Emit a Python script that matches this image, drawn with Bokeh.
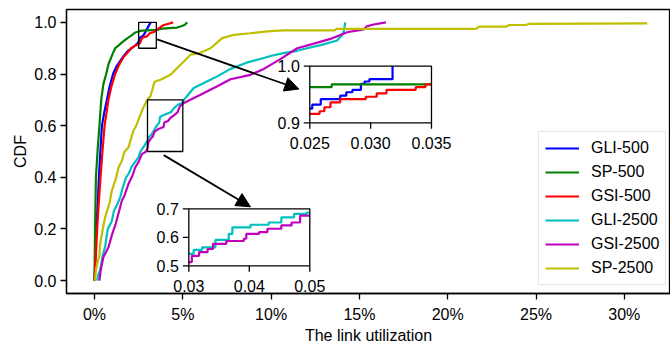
import numpy as np
from bokeh.plotting import figure
from bokeh.models import Range1d, FixedTicker, NumeralTickFormatter, Arrow, NormalHead
from bokeh.core.properties import value
from bokeh.embed import file_html
from bokeh.resources import INLINE

FONT = "Liberation Sans"
FS = "16px"

# ---------------- data (link utilization as fraction, CDF value) ----------------
series_names = ["GLI-500", "SP-500", "GSI-500", "GLI-2500", "GSI-2500", "SP-2500"]
series_colors = ["#0000ff", "#008000", "#ff0000", "#00bfbf", "#bf00bf", "#bfbf00"]

gli500_x = [0.0, 0.0005, 0.001, 0.0018, 0.0025, 0.0033, 0.0042, 0.0055, 0.007, 0.0085,
            0.0105, 0.0125, 0.0145, 0.0165, 0.019, 0.021, 0.023, 0.0245, 0.025, 0.0252,
            0.0259, 0.0275, 0.028, 0.0285, 0.0292, 0.0295, 0.0299, 0.0318]
gli500_y = [0.0, 0.1, 0.2, 0.3, 0.4, 0.5, 0.6, 0.65, 0.7, 0.75,
            0.8, 0.83, 0.85, 0.87, 0.89, 0.9, 0.91, 0.92, 0.925, 0.932,
            0.942, 0.948, 0.954, 0.958, 0.969, 0.973, 0.977, 1.0]

sp500_x = [0.0, 0.0003, 0.0008, 0.0019, 0.0028, 0.0038, 0.005, 0.0066, 0.008, 0.0104,
           0.0117, 0.0135, 0.0151, 0.017, 0.0189, 0.021, 0.0226, 0.024, 0.0268, 0.036,
           0.037, 0.042, 0.0468, 0.049, 0.051, 0.0525]
sp500_y = [0.0, 0.2, 0.4, 0.52, 0.6, 0.7, 0.76, 0.8, 0.84, 0.88,
           0.9, 0.91, 0.92, 0.93, 0.94, 0.95, 0.959, 0.963, 0.968, 0.971,
           0.975, 0.978, 0.98, 0.985, 0.99, 1.0]

gsi500_x = [0.0, 0.0008, 0.0015, 0.0024, 0.0034, 0.0045, 0.0057, 0.0068, 0.0079, 0.0095,
            0.0117, 0.0135, 0.0151, 0.017, 0.019, 0.0208, 0.023, 0.025, 0.0258, 0.0262,
            0.0267, 0.0275, 0.0296, 0.0305, 0.0313, 0.0337, 0.0345, 0.036, 0.038, 0.0393,
            0.042, 0.0445]
gsi500_y = [0.0, 0.1, 0.2, 0.3, 0.4, 0.5, 0.6, 0.65, 0.7, 0.75,
            0.8, 0.83, 0.85, 0.87, 0.885, 0.9, 0.91, 0.9157, 0.9204, 0.9275,
            0.936, 0.942, 0.946, 0.952, 0.958, 0.963, 0.968, 0.975, 0.985, 0.99,
            0.995, 1.0]

gli2500_x = [0.0015, 0.002, 0.0032, 0.0047, 0.006, 0.0075, 0.0098, 0.011, 0.0132, 0.0145,
             0.016, 0.0179, 0.0192, 0.021, 0.023, 0.0249, 0.026, 0.028, 0.030, 0.0308,
             0.0322, 0.0344, 0.0366, 0.0372, 0.0402, 0.0432, 0.0453, 0.0474, 0.0495, 0.0506,
             0.053, 0.0562, 0.0619, 0.0695, 0.077, 0.0865, 0.0959, 0.0997, 0.107, 0.1148,
             0.1185, 0.128, 0.1374, 0.140, 0.141, 0.142]
gli2500_y = [0.0, 0.02, 0.04, 0.1, 0.13, 0.2, 0.23, 0.27, 0.3, 0.322,
             0.36, 0.4, 0.412, 0.44, 0.46, 0.477, 0.5, 0.52, 0.542, 0.556,
             0.565, 0.591, 0.612, 0.635, 0.644, 0.652, 0.67, 0.682, 0.687, 0.70,
             0.72, 0.746, 0.765, 0.791, 0.82, 0.845, 0.862, 0.87, 0.881, 0.89,
             0.897, 0.912, 0.93, 0.95, 0.96, 1.0]

gsi2500_x = [0.0028, 0.0035, 0.005, 0.0079, 0.010, 0.012, 0.0155, 0.017, 0.0192, 0.0217,
             0.023, 0.025, 0.0268, 0.0292, 0.030, 0.0305, 0.0317, 0.0331, 0.034, 0.0362,
             0.0391, 0.0395, 0.0416, 0.043, 0.0453, 0.047, 0.0484, 0.0506, 0.060, 0.0695,
             0.077, 0.0883, 0.0959, 0.105, 0.1148, 0.1242, 0.1336, 0.143, 0.1525, 0.154,
             0.158, 0.165]
gsi2500_y = [0.0, 0.04, 0.09, 0.129, 0.18, 0.22, 0.309, 0.33, 0.374, 0.41,
             0.438, 0.46, 0.49, 0.50, 0.513, 0.535, 0.548, 0.559, 0.577, 0.587,
             0.595, 0.612, 0.618, 0.63, 0.642, 0.652, 0.676, 0.688, 0.72, 0.753,
             0.78, 0.797, 0.82, 0.857, 0.90, 0.918, 0.936, 0.962, 0.973, 0.984,
             0.992, 1.0]

sp2500_x = [0.0002, 0.001, 0.0028, 0.0032, 0.0047, 0.006, 0.0085, 0.0098, 0.0123, 0.0136,
            0.0155, 0.017, 0.0192, 0.022, 0.0236, 0.027, 0.0298, 0.0317, 0.034, 0.0374,
            0.043, 0.0497, 0.0544, 0.059, 0.0657, 0.0723, 0.0789, 0.0883, 0.0978, 0.107,
            0.136, 0.137, 0.216, 0.218, 0.233, 0.235, 0.244, 0.246, 0.313]
sp2500_y = [0.0, 0.05, 0.1, 0.142, 0.2, 0.245, 0.3, 0.348, 0.4, 0.438,
            0.464, 0.5, 0.515, 0.58, 0.6, 0.66, 0.7, 0.714, 0.77, 0.778,
            0.797, 0.843, 0.875, 0.88, 0.90, 0.939, 0.952, 0.958, 0.965, 0.969,
            0.969, 0.975, 0.975, 0.984, 0.984, 0.99, 0.99, 0.994, 0.996]

series_x = [gli500_x, sp500_x, gsi500_x, gli2500_x, gsi2500_x, sp2500_x]
series_y = [gli500_y, sp500_y, gsi500_y, gli2500_y, gsi2500_y, sp2500_y]

x_ticks = [0.0, 0.05, 0.10, 0.15, 0.20, 0.25, 0.30]
y_ticks = [0.0, 0.2, 0.4, 0.6, 0.8, 1.0]

inset1_series = [0, 1, 2]
inset1_xlim = [0.025, 0.035]
inset1_ylim = [0.9, 1.0]
inset1_xticks = [0.025, 0.030, 0.035]
inset1_xlabels = ["0.025", "0.030", "0.035"]
inset1_yticks = [0.9, 1.0]
inset1_ylabels = ["0.9", "1.0"]

inset2_series = [3, 4]
inset2_xlim = [0.03, 0.05]
inset2_ylim = [0.5, 0.7]
inset2_xticks = [0.03, 0.04, 0.05]
inset2_xlabels = ["0.03", "0.04", "0.05"]
inset2_yticks = [0.5, 0.6, 0.7]
inset2_ylabels = ["0.5", "0.6", "0.7"]

# ---------------- layout ----------------
INSET1_FX = (0.4028, 0.6043)
INSET1_FY = (0.601, 0.8004)
INSET2_FX = (0.2025, 0.4028)
INSET2_FY = (0.0975, 0.2982)

ARROWS = [(0.0355, 0.934, 0.1157, 0.742), (0.0392, 0.486, 0.0883, 0.286)]


def clip_steps(xs, ys, lo, hi, ylo, yhi):
    xs = np.asarray(xs, dtype=float)
    ys = np.asarray(ys, dtype=float)
    ox, oy = [], []
    i0 = np.searchsorted(xs, lo, side="right") - 1
    if i0 >= 0:
        ox.append(lo)
        oy.append(ys[i0])
    for xv, yv in zip(xs, ys):
        if lo < xv < hi:
            ox.append(xv)
            oy.append(yv)
    if xs[-1] >= hi:
        j = np.searchsorted(xs, hi, side="right") - 1
        ox.append(hi)
        oy.append(ys[j])
    return ox, list(np.clip(oy, ylo, yhi))


def inset_range(lim, f):
    span = (lim[1] - lim[0]) / (f[1] - f[0])
    start = lim[0] - f[0] * span
    return Range1d(start, start + span)


p = figure(frame_width=604, frame_height=284,
           min_border_left=66, min_border_right=0, min_border_top=9, min_border_bottom=51,
           x_range=Range1d(-0.01586, 0.32616), y_range=Range1d(-0.05, 1.05),
           output_backend="svg", toolbar_location=None)
p.grid.visible = False
p.outline_line_color = "black"
p.outline_line_width = 1.3
p.background_fill_color = "white"

p.extra_x_ranges = {"i1x": inset_range(inset1_xlim, INSET1_FX),
                    "i2x": inset_range(inset2_xlim, INSET2_FX)}
p.extra_y_ranges = {"i1y": inset_range(inset1_ylim, INSET1_FY),
                    "i2y": inset_range(inset2_ylim, INSET2_FY)}

for xs, ys, nm, col in zip(series_x, series_y, series_names, series_colors):
    p.line(xs, ys, color=col, line_width=2.2, legend_label=nm)

for lx, ly in [(inset1_xlim, inset1_ylim), (inset2_xlim, inset2_ylim)]:
    p.quad(left=[lx[0]], right=[lx[1]], bottom=[ly[0]], top=[ly[1]],
           fill_color=None, line_color="black", line_width=1.3)

for (x0, y0, x1, y1) in ARROWS:
    p.add_layout(Arrow(x_start=x0, y_start=y0, x_end=x1, y_end=y1,
                       line_color="black", line_width=1.8,
                       end=NormalHead(size=14, fill_color="black", line_color="black")))


def add_inset(key, xlim, ylim, idxs, xt, xl, yt, yl):
    kw = dict(x_range_name=key + "x", y_range_name=key + "y")
    p.quad(left=[xlim[0]], right=[xlim[1]], bottom=[ylim[0]], top=[ylim[1]],
           fill_color="white", line_color=None, **kw)
    for i in idxs:
        sx, sy = clip_steps(series_x[i], series_y[i], xlim[0], xlim[1], ylim[0], ylim[1])
        p.step(sx, sy, mode="after", color=series_colors[i], line_width=2.2, **kw)
    p.quad(left=[xlim[0]], right=[xlim[1]], bottom=[ylim[0]], top=[ylim[1]],
           fill_color=None, line_color="black", line_width=1.3, **kw)
    p.ray(x=xt, y=[ylim[0]] * len(xt), length=6, length_units="screen",
          angle=-np.pi / 2, line_color="black", line_width=1.3, **kw)
    p.ray(x=[xlim[0]] * len(yt), y=yt, length=6, length_units="screen",
          angle=np.pi, line_color="black", line_width=1.3, **kw)
    p.text(x=xt, y=[ylim[0]] * len(xt), text=xl, text_align="center",
           text_baseline="top", y_offset=14, text_font=value(FONT),
           text_font_size=value(FS), text_color="black", **kw)
    p.text(x=[xlim[0]] * len(yt), y=yt, text=yl, text_align="right",
           text_baseline="middle", x_offset=-10, text_font=value(FONT),
           text_font_size=value(FS), text_color="black", **kw)


add_inset("i1", inset1_xlim, inset1_ylim, inset1_series,
          inset1_xticks, inset1_xlabels, inset1_yticks, inset1_ylabels)
add_inset("i2", inset2_xlim, inset2_ylim, inset2_series,
          inset2_xticks, inset2_xlabels, inset2_yticks, inset2_ylabels)

# axes
p.xaxis.ticker = FixedTicker(ticks=x_ticks)
p.xaxis.formatter = NumeralTickFormatter(format="0%")
p.yaxis.ticker = FixedTicker(ticks=y_ticks)
p.yaxis.formatter = NumeralTickFormatter(format="0.0")
p.xaxis.axis_label = "The link utilization"
p.yaxis.axis_label = "CDF"
for ax in (p.xaxis, p.yaxis):
    ax.axis_line_width = 1.3
    ax.axis_line_color = "black"
    ax.major_tick_line_width = 1.3
    ax.major_tick_line_color = "black"
    ax.major_tick_out = 6
    ax.major_tick_in = 0
    ax.minor_tick_out = 0
    ax.minor_tick_in = 0
    ax.major_label_text_font = FONT
    ax.major_label_text_font_size = FS
    ax.major_label_text_color = "black"
    ax.axis_label_text_font = FONT
    ax.axis_label_text_font_size = FS
    ax.axis_label_text_font_style = "normal"
    ax.axis_label_text_color = "black"
p.xaxis.major_label_standoff = 6
p.xaxis.axis_label_standoff = 1
p.yaxis.major_label_standoff = 4
p.yaxis.axis_label_standoff = 2

# legend
lg = p.legend[0]
lg.location = (472, 8)
lg.margin = 0
lg.padding = 6
lg.spacing = 4
lg.glyph_width = 34
lg.glyph_height = 20
lg.label_height = 20
lg.label_standoff = 12
lg.label_text_font = FONT
lg.label_text_font_size = FS
lg.label_text_color = "black"
lg.border_line_color = "#cccccc"
lg.border_line_width = 1
lg.background_fill_alpha = 0.8

open("out.html", "w").write(file_html(p, INLINE))
